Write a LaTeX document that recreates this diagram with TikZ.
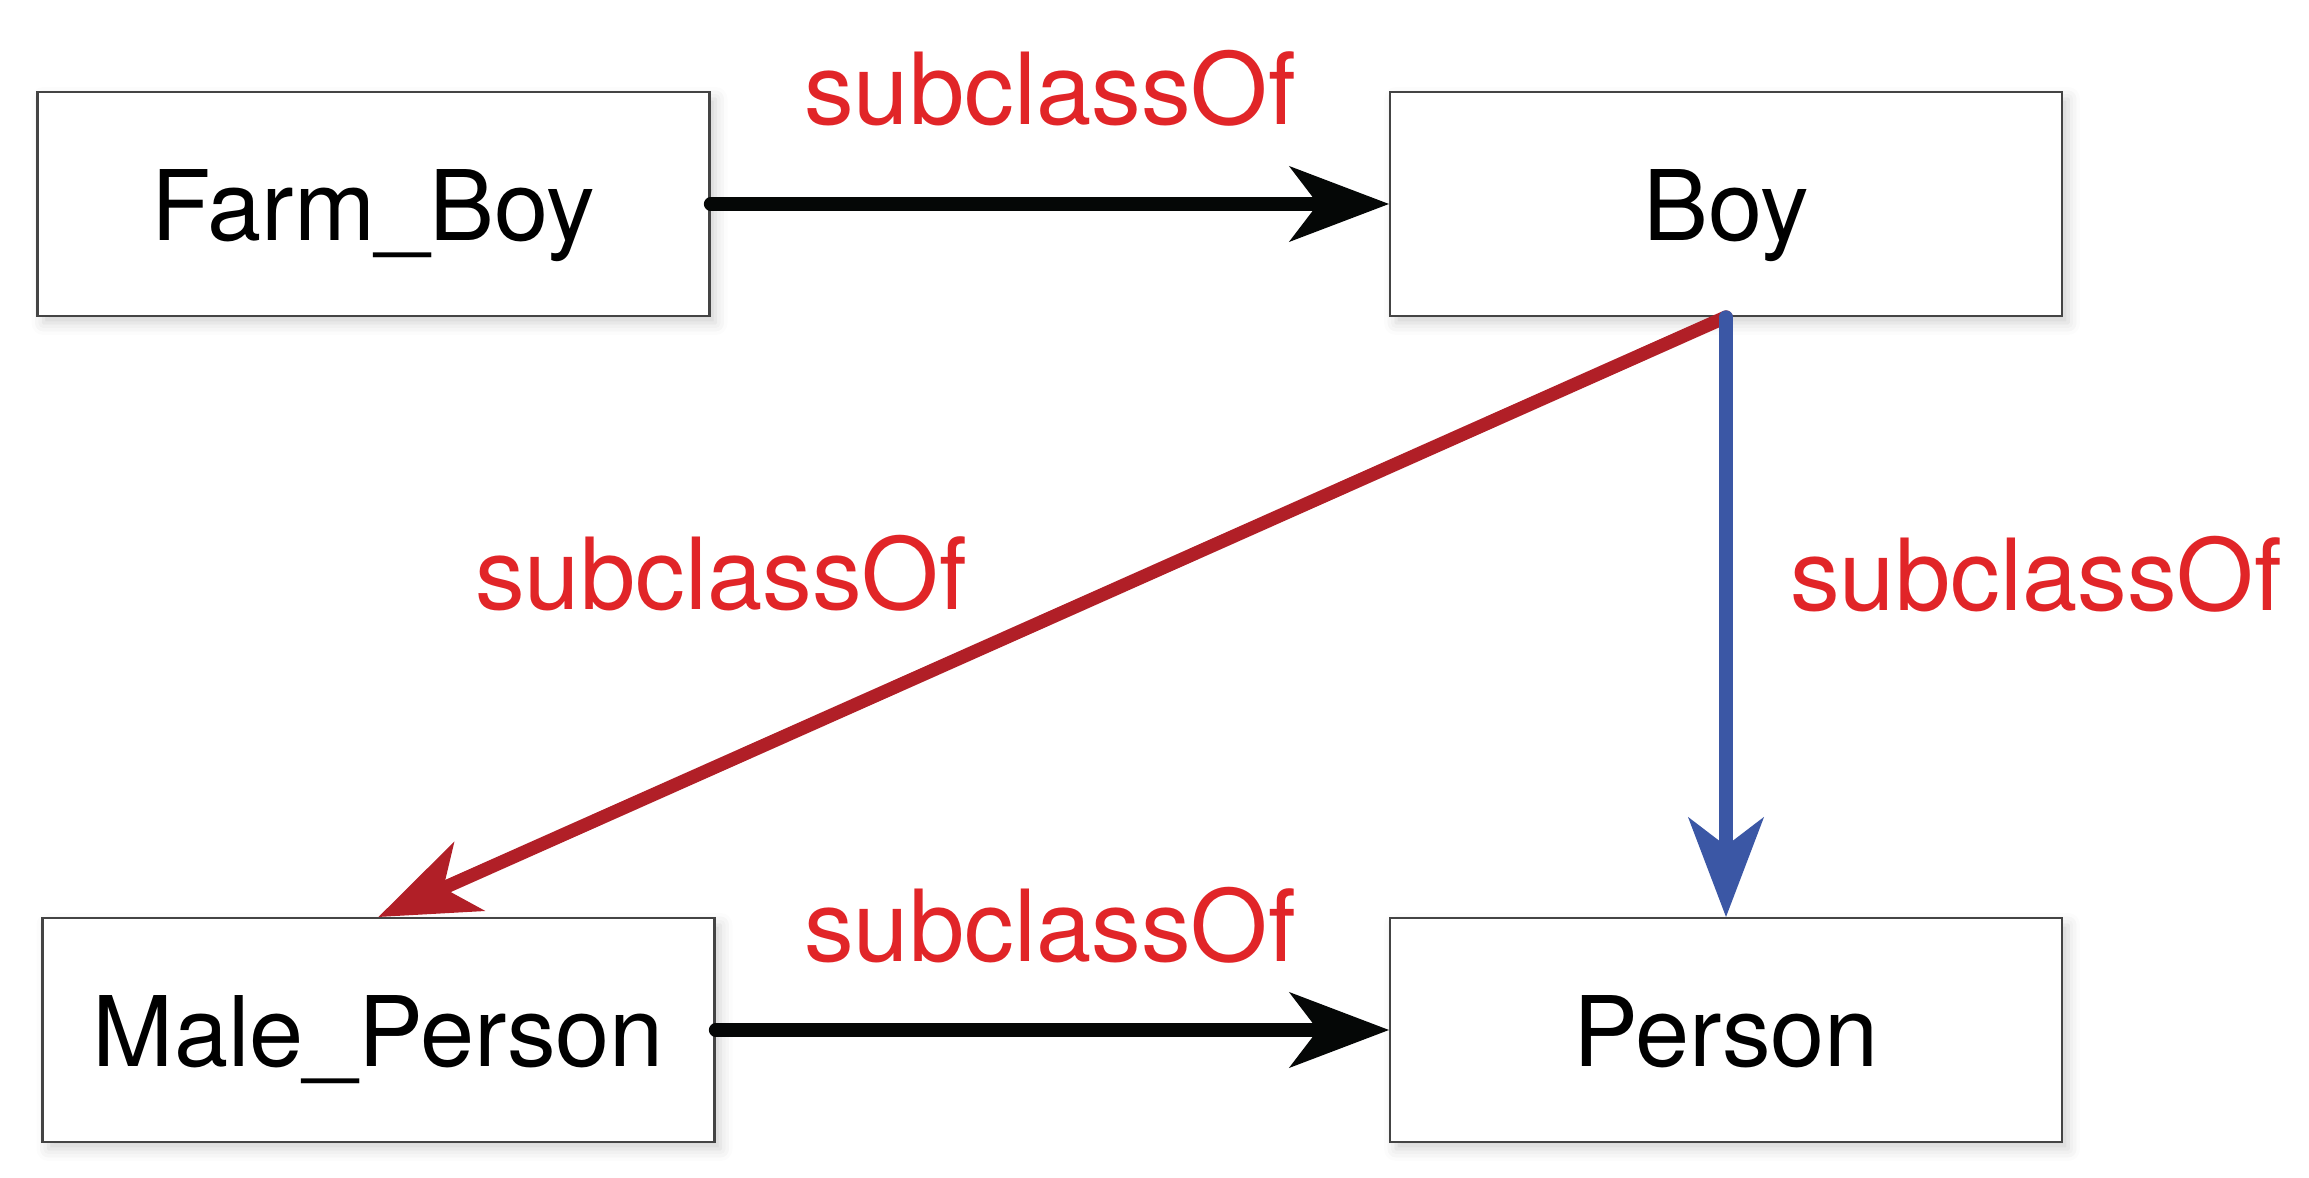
\documentclass[tikz,border=0pt]{standalone}
\usepackage{fontspec}
\setmainfont{TeX Gyre Heros}
\usetikzlibrary{arrows.meta, shadows.blur}

\definecolor{lblred}{RGB}{225,37,40}
\definecolor{arrred}{RGB}{177,31,39}
\definecolor{arrblue}{RGB}{59,87,165}
\definecolor{arrblack}{RGB}{5,7,6}
\definecolor{boxline}{RGB}{68,68,68}

\begin{document}
\begin{tikzpicture}[
    classbox/.style={draw=boxline, line width=0.6pt, fill=white,
      minimum width=6.72cm, minimum height=2.24cm, inner sep=0pt,
      text height=1.12cm, text depth=0.38cm,
      font=\fontsize{27.7}{33}\selectfont,
      blur shadow={shadow xshift=0.06cm, shadow yshift=-0.07cm,
        shadow blur radius=0.12cm, shadow opacity=18}},
    relname/.style={text=lblred, anchor=base, inner sep=0pt,
      font=\fontsize{28.3}{34}\selectfont},
    subof/.style={line width=3.8pt, line cap=round,
      -{Stealth[length=1.0cm, width=0.76cm, inset=0.29cm, line width=0.4pt]}}
  ]
  % \draw (0, 0) grid (23, 11);
  \useasboundingbox (0,0) rectangle (23.09,11.78);

  \node[classbox] (farmboy) at (3.735,9.74) {Farm\_Boy};
  \node[classbox] (boy) at (17.26,9.74) {Boy};
  \node[classbox] (maleperson) at (3.785,1.48) {Male\_Person};
  \node[classbox] (person) at (17.26,1.48) {Person};

  \draw[subof, arrblack] (farmboy.east) -- (boy.west);
  \draw[subof, arrblack] (maleperson.east) -- (person.west);
  \draw[subof, arrred] (boy.south) -- (maleperson.north);
  \draw[subof, arrblue] (boy.south) -- (person.north);

  \node[relname] (lbltop) at (10.50,10.53) {subclassOf};
  \node[relname] (lblbottom) at (10.50,2.16) {subclassOf};
  \node[relname] (lblleft) at (7.21,5.68) {subclassOf};
  \node[relname] (lblright) at (20.36,5.67) {subclassOf};
\end{tikzpicture}
\end{document}
